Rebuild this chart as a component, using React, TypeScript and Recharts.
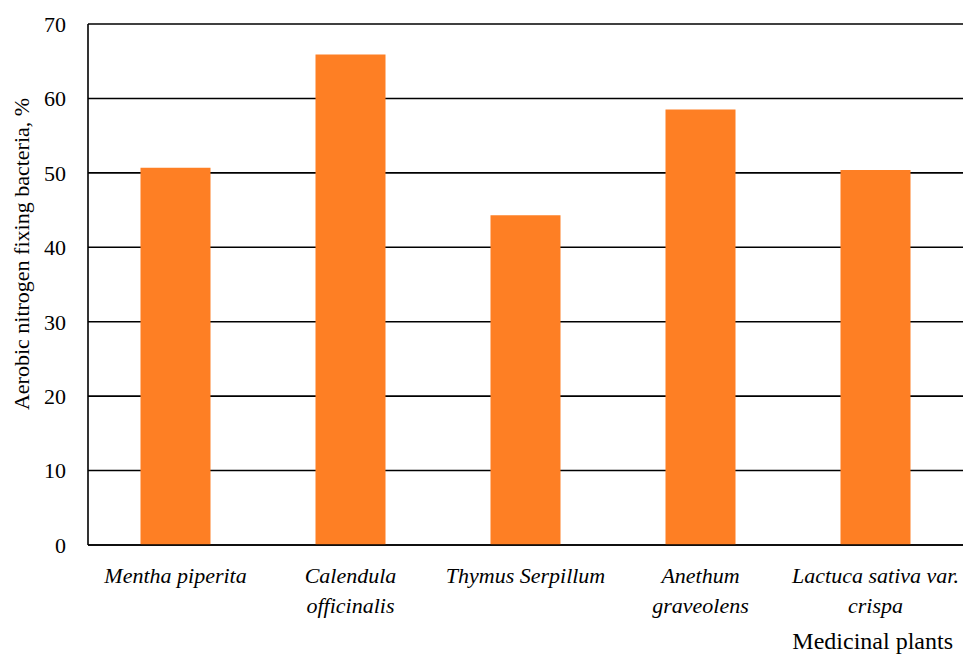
import { BarChart, Bar, XAxis, YAxis, CartesianGrid } from "recharts";

const plants = [
  "Mentha piperita",
  "Calendula\nofficinalis",
  "Thymus Serpillum",
  "Anethum\ngraveolens",
  "Lactuca sativa var.\ncrispa",
];
const bacteria = [50.7, 65.9, 44.3, 58.5, 50.4];
const yTicks = [0, 10, 20, 30, 40, 50, 60, 70];

const FONT = "'Liberation Serif', 'Times New Roman', serif";
const ORANGE = "#fe7f24";

const data = plants.map((name, i) => ({ name, value: bacteria[i] }));

// category names are italic and may wrap onto a second line
function PlantTick({ x, y, payload }: any) {
  const lines = String(payload.value).split("\n");
  return (
    <text
      x={x}
      y={y}
      textAnchor="middle"
      fill="#000"
      fontFamily={FONT}
      fontSize={22}
      fontStyle="italic"
    >
      {lines.map((l, i) => (
        <tspan key={i} x={x} dy={i === 0 ? 38 : 30}>
          {l}
        </tspan>
      ))}
    </text>
  );
}

export default function App() {
  return (
    <div style={{ position: "absolute", left: 0, top: 0, background: "#fff" }}>
      <BarChart
        width={963}
        height={655}
        data={data}
        margin={{ top: 24, right: 0, left: 0, bottom: 0 }}
        barCategoryGap="30%"
      >
        <CartesianGrid vertical={false} stroke="#000" strokeWidth={1.6} />
        <XAxis
          dataKey="name"
          height={110}
          interval={0}
          tickLine={false}
          tickSize={0}
          tickMargin={0}
          axisLine={{ stroke: "#000", strokeWidth: 1.6 }}
          tick={<PlantTick />}
          label={{
            content: ({ viewBox }: any) => (
              <text
                x={viewBox.x + viewBox.width - 10}
                y={649}
                textAnchor="end"
                fill="#000"
                fontFamily={FONT}
                fontSize={24}
              >
                Medicinal plants
              </text>
            ),
          }}
        />
        <YAxis
          width={88}
          domain={[0, 70]}
          ticks={yTicks}
          interval={0}
          tickLine={false}
          tickSize={6}
          tickMargin={16}
          axisLine={{ stroke: "#000", strokeWidth: 1.6 }}
          tick={{ fill: "#000", fontFamily: FONT, fontSize: 22 }}
          label={{
            content: () => (
              <text
                x={0}
                y={0}
                transform="translate(29, 254) rotate(-90)"
                textAnchor="middle"
                fill="#000"
                fontFamily={FONT}
                fontSize={22}
              >
                Aerobic nitrogen fixing bacteria, %
              </text>
            ),
          }}
        />
        <Bar dataKey="value" fill={ORANGE} isAnimationActive={false} />
      </BarChart>
    </div>
  );
}
